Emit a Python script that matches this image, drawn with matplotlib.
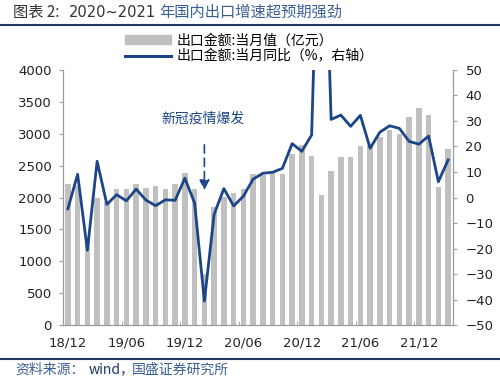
import numpy as np
import matplotlib.pyplot as plt
from matplotlib.patches import Patch
from matplotlib.lines import Line2D

plt.rcParams['font.family'] = ['Noto Sans CJK SC', 'DejaVu Sans']

# monthly data 2018/12 - 2022/03
months = ['18/12', '19/01', '19/02', '19/03', '19/04', '19/05', '19/06', '19/07', '19/08', '19/09',
          '19/10', '19/11', '19/12', '20/01', '20/02', '20/03', '20/04', '20/05', '20/06', '20/07',
          '20/08', '20/09', '20/10', '20/11', '20/12', '21/01', '21/02', '21/03', '21/04', '21/05',
          '21/06', '21/07', '21/08', '21/09', '21/10', '21/11', '21/12', '22/01', '22/02', '22/03']
export_value = [2212, 2175, 1352, 1987, 1935, 2138, 2130, 2215, 2148, 2181,
                2129, 2217, 2382, 2127, 803, 1852, 2003, 2068, 2136, 2376,
                2353, 2398, 2372, 2681, 2819, 2648, 2041, 2412, 2639, 2636,
                2814, 2826, 2943, 3057, 3003, 3255, 3405, 3286, 2162, 2761]
export_yoy = [-4.4, 9.1, -20.7, 14.2, -2.7, 1.1, -1.3, 3.3, -1.0, -3.2,
              -0.9, -1.1, 7.6, -2.2, -40.6, -6.6, 3.5, -3.3, 0.5, 7.2,
              9.5, 9.9, 11.4, 21.1, 18.1, 24.5, 154.0, 30.6, 32.3, 27.9,
              32.2, 19.3, 25.6, 28.1, 27.1, 22.0, 20.9, 24.1, 6.2, 14.7]
tick_labels = ['18/12', '19/06', '19/12', '20/06', '20/12', '21/06', '21/12']

navy = '#1c4587'
bar_grey = '#c0c0c0'
spine_grey = '#9a9a9a'
tick_font = dict(family='DejaVu Sans', size=9.5)

x = np.arange(len(months))

fig = plt.figure(figsize=(5, 3.78), dpi=100)
ax = fig.add_axes([0.126, 0.140, 0.780, 0.675])
ax2 = ax.twinx()

ax.bar(x, export_value, width=0.55, color=bar_grey, zorder=1)
ax2.plot(x, export_yoy, color=navy, lw=2.0, zorder=3)

ax.set_xlim(-0.5, len(months) - 0.5)
ax.set_ylim(0, 4000)
ax.set_yticks(np.arange(0, 4001, 500))
ax2.set_ylim(-50, 50)
ax2.set_yticks(np.arange(-50, 51, 10))

ax.set_xticks([months.index(t) for t in tick_labels])
ax.set_xticklabels(tick_labels)
ax.set_xticks(np.arange(5.5, len(months), 6), minor=True)
ax.tick_params(axis='x', which='major', length=0, pad=8)
ax.tick_params(axis='x', which='minor', direction='in', length=3, color=spine_grey)
ax.tick_params(axis='y', direction='out', length=3, color=spine_grey, pad=5)
ax2.tick_params(axis='y', direction='out', length=3, color=spine_grey, pad=6)
for lab in ax.get_xticklabels() + ax.get_yticklabels() + ax2.get_yticklabels():
    lab.set_fontproperties(tick_font)
    lab.set_color('#222222')

for a in (ax, ax2):
    a.spines['top'].set_visible(False)
    for s in ('left', 'right', 'bottom'):
        a.spines[s].set_color(spine_grey)
ax.set_zorder(ax2.get_zorder() - 1)
ax2.patch.set_visible(False)
ax.patch.set_visible(False)

# annotation
ax.annotate('', xy=(14, 2070), xytext=(14, 2870),
            arrowprops=dict(arrowstyle='-|>', color=navy, lw=1.2, ls=(0, (5, 3)),
                            mutation_scale=15))
ax.text(13.9, 3230, '新冠疫情爆发', color=navy, fontsize=10, ha='center', va='center')

# legend
handles = [Patch(color=bar_grey), Line2D([0], [0], color=navy, lw=2.2)]
labels = ['出口金额:当月值（亿元）', '出口金额:当月同比（%，右轴）']
fig.legend(handles, labels, loc='upper left', bbox_to_anchor=(0.236, 0.930), frameon=False,
           fontsize=10, handlelength=3.3, handleheight=0.7, labelspacing=0.15,
           handletextpad=0.4, borderpad=0)

# title, rules and source
fig.text(0.026, 0.968, '图表 2:', fontsize=11, color='#333333', va='center')
fig.text(0.138, 0.968, '2020~2021', fontsize=10.5, color='#333333', va='center',
         family='DejaVu Sans')
fig.text(0.318, 0.968, '年国内出口增速超预期强劲', fontsize=11, color='#3a5f95', va='center')
fig.add_artist(Line2D([0, 1], [0.934, 0.934], color='#1f3864', lw=1.5))
fig.add_artist(Line2D([0, 1], [0.050, 0.050], color='#1f3864', lw=1.5))
fig.text(0.030, 0.022, '资料来源：', fontsize=10, color='#3a5f95', va='center')
fig.text(0.178, 0.022, 'wind，', fontsize=10, color='#1f3864', va='center')
fig.text(0.264, 0.022, '国盛证券研究所', fontsize=10, color='#3a5f95', va='center')

fig.savefig('out.png', dpi=100)
